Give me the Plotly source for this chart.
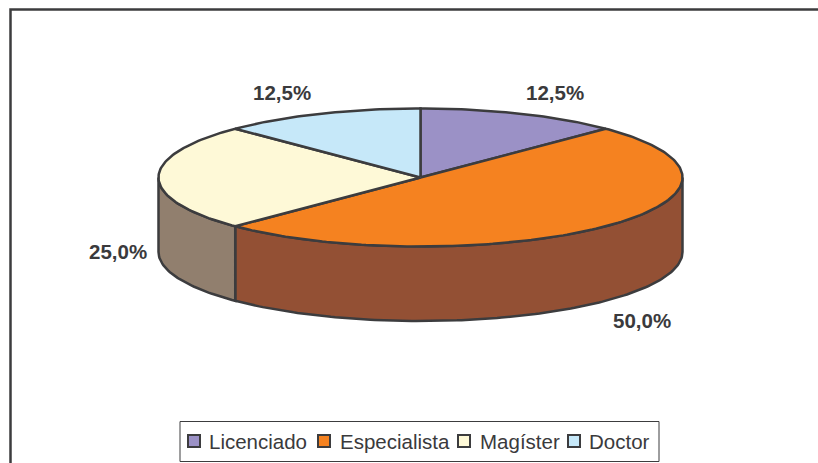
import numpy as np
import plotly.graph_objects as go

categories = ["Licenciado", "Especialista", "Magíster", "Doctor"]
shares = [12.5, 50.0, 25.0, 12.5]
labels = ["12,5%", "50,0%", "25,0%", "12,5%"]
top_colors = ["#9b91c6", "#f58220", "#fef9d7", "#c6e8f9"]
side_colors = ["#6f6890", "#935034", "#917f6e", "#8fa8b4"]

LINE = "#3c3c3e"
CX, CY = 420.5, 177.5  # centre of the top face, in picture pixels
RX, RY = 262.0, 69.0
DEPTH = 74.5


def rim(a0, a1):
    # angles in degrees clockwise from 12 o'clock
    t = np.radians(np.linspace(a0, a1, max(int(abs(a1 - a0)), 2) + 1))
    return CX + RX * np.sin(t), CY - RY * np.cos(t)


fig = go.Figure()


def poly(xs, ys, fill):
    fig.add_trace(go.Scatter(
        x=xs, y=ys, mode="lines", fill="toself", fillcolor=fill,
        line=dict(color=LINE, width=2.5), showlegend=False, hoverinfo="skip",
    ))


edges = np.cumsum([0.0] + shares) * 3.6

# side walls first: only the part facing the viewer (90..270 degrees)
for i, fill in enumerate(side_colors):
    a0, a1 = max(edges[i], 90.0), min(edges[i + 1], 270.0)
    if a1 <= a0:
        continue
    x, y = rim(a0, a1)
    poly(np.r_[x, x[::-1], x[0]], np.r_[y, y[::-1] + DEPTH, y[0]], fill)

# top faces
for i, fill in enumerate(top_colors):
    x, y = rim(edges[i], edges[i + 1])
    poly(np.r_[CX, x, CX], np.r_[CY, y, CY], fill)

# percentage labels
label_pos = [(555, 92), (642, 320), (118, 251), (282, 92)]
for text, (lx, ly) in zip(labels, label_pos):
    fig.add_annotation(x=lx, y=ly, text=f"<b>{text}</b>", showarrow=False,
                       font=dict(family="Liberation Sans", size=20.5, color="#3a3a3c"))

# chart frame runs off the right and bottom of the picture
fig.add_shape(type="rect", x0=10.5, y0=9.5, x1=840, y1=490, line=dict(color=LINE, width=2.5))
fig.add_shape(type="rect", x0=180, y0=421.5, x1=659, y1=461.5, fillcolor="white",
              line=dict(color=LINE, width=1))

# legend entries
swatch_x = [188, 318, 458, 568]
text_x = [207, 338, 478, 587]
for name, fill, sx, tx in zip(categories, top_colors, swatch_x, text_x):
    fig.add_shape(type="rect", x0=sx, y0=435, x1=sx + 12, y1=447, fillcolor=fill,
                  line=dict(color=LINE, width=2))
    fig.add_annotation(x=tx, y=441, text=name, showarrow=False, xanchor="left",
                       font=dict(family="Liberation Sans", size=20.5, color="#3a3a3c"))

fig.update_layout(
    width=818, height=463, margin=dict(l=0, r=0, t=0, b=0),
    paper_bgcolor="white", plot_bgcolor="white", showlegend=False,
    xaxis=dict(range=[0, 818], visible=False, fixedrange=True),
    yaxis=dict(range=[463, 0], visible=False, fixedrange=True),
)
fig.write_html("out.html", config=dict(displayModeBar=False),
               post_script="document.body.style.margin='0';document.body.style.overflow='hidden';")
